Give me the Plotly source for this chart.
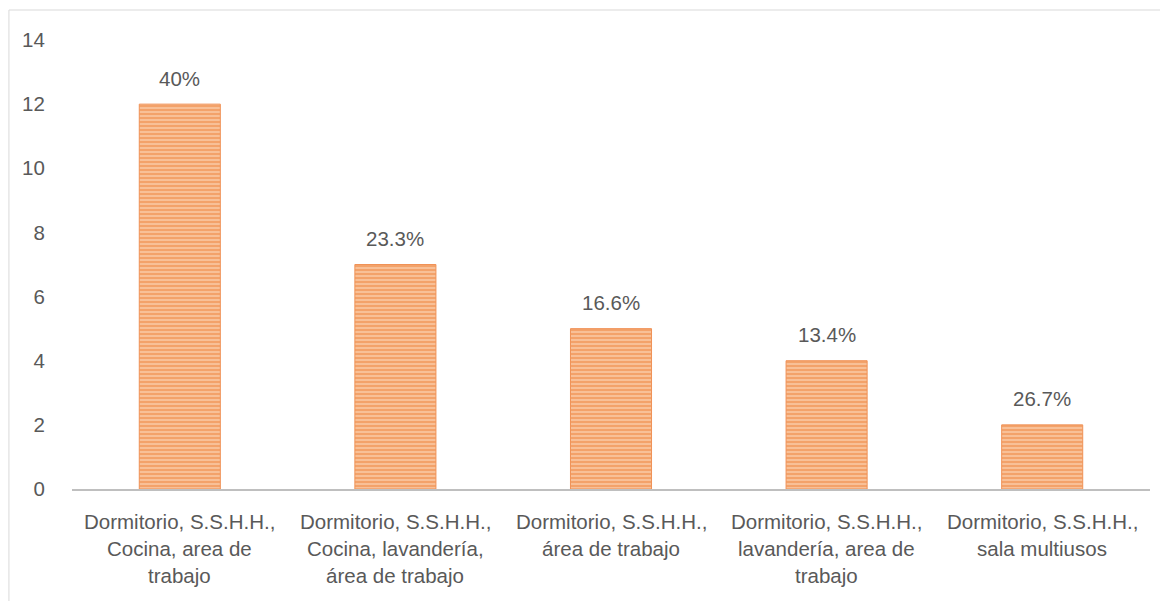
import plotly.graph_objects as go

categories = [
    "Dormitorio, S.S.H.H.,<br>Cocina, area de<br>trabajo",
    "Dormitorio, S.S.H.H.,<br>Cocina, lavandería,<br>área de trabajo",
    "Dormitorio, S.S.H.H.,<br>área de trabajo",
    "Dormitorio, S.S.H.H.,<br>lavandería, area de<br>trabajo",
    "Dormitorio, S.S.H.H.,<br>sala multiusos",
]
values = [12, 7, 5, 4, 2]
pct_labels = ["40%", "23.3%", "16.6%", "13.4%", "26.7%"]
y_ticks = [0, 2, 4, 6, 8, 10, 12, 14]

FONT = "Liberation Sans"
TXT = "#595959"
FS = 20.5
keys = list(range(len(categories)))

fig = go.Figure()
fig.add_trace(go.Bar(
    x=keys, y=values, width=0.376,
    marker=dict(
        color="#F3A46F",
        line=dict(color="#F09257", width=1),
        pattern=dict(shape="-", fgcolor="#ED7D31", bgcolor="#F9C7A3", size=4, solidity=0.6),
    ),
    hoverinfo="skip",
))

annotations = []
for k, v, p in zip(keys, values, pct_labels):
    annotations.append(dict(x=k, y=v, xref="x", yref="y", text=p, showarrow=False,
                            yshift=26, font=dict(family=FONT, size=FS, color=TXT)))
for k, cat in zip(keys, categories):
    for i, line in enumerate(cat.split("<br>")):
        annotations.append(dict(x=k, y=0, xref="x", yref="y", text=line, showarrow=False,
                                yshift=-32 - 27 * i, font=dict(family=FONT, size=FS, color=TXT)))

fig.update_layout(
    width=1160, height=593,
    margin=dict(l=64, r=18, t=32, b=112),
    paper_bgcolor="white", plot_bgcolor="white",
    showlegend=False,
    annotations=annotations,
    xaxis=dict(range=[-0.5, 4.5], tickvals=keys, showticklabels=False, showline=True,
               linecolor="#BFBFBF", linewidth=2, showgrid=False, zeroline=False, ticks=""),
    yaxis=dict(range=[0, 14], tickvals=y_ticks, showgrid=False, zeroline=False, showline=False,
               ticks="outside", ticklen=0, ticklabelstandoff=22,
               tickfont=dict(family=FONT, size=FS, color=TXT)),
    shapes=[dict(type="rect", xref="paper", yref="paper", x0=-0.0585, x1=1.03, y0=-0.3, y1=1.0668,
                 line=dict(color="#D9D9D9", width=1), fillcolor="rgba(0,0,0,0)", layer="below")],
)

fig.write_html("out.html")
